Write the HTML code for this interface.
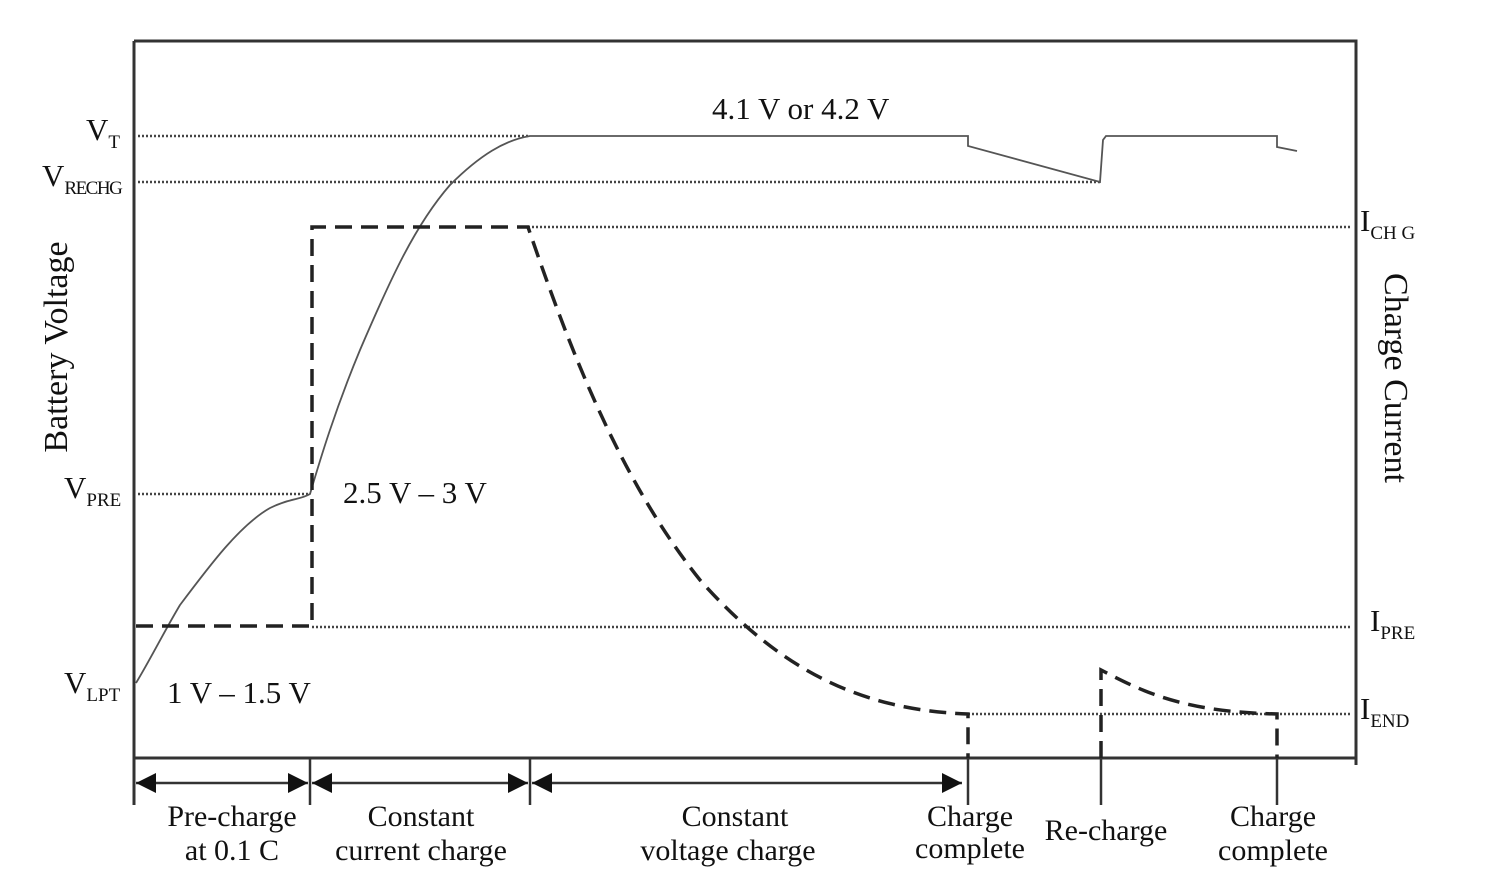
<!DOCTYPE html>
<html><head><style>
html,body{margin:0;padding:0;background:#fff;}
svg{display:block;}
text{font-family:"Liberation Serif",serif;fill:#111;}
</style></head><body>
<svg width="1489" height="878" viewBox="0 0 1489 878" xmlns="http://www.w3.org/2000/svg">
<defs>
<marker id="a" viewBox="0 0 10 10" refX="10" refY="5" markerWidth="20" markerHeight="20" markerUnits="userSpaceOnUse" orient="auto-start-reverse"><path d="M0,0L10,5L0,10z" fill="#111"/></marker>
</defs>
<path d="M134,41H1356V765" fill="none" stroke="#333" stroke-width="3"/>
<path d="M134,41V805" fill="none" stroke="#333" stroke-width="3"/>
<path d="M134,758H1356" fill="none" stroke="#333" stroke-width="3"/>
<g stroke="#444" stroke-width="2.5" stroke-dasharray="2,2" fill="none">
<path d="M138,136H530"/><path d="M138,182H1100"/><path d="M138,494H310"/>
<path d="M528,227H1352"/><path d="M312,627H1352"/><path d="M968,714H1352"/>
</g>
<path d="M136,683 C150,660 165,630 180,605 C210,565 240,525 270,508 C290,498 300,500 310,494 C320,460 335,410 360,350 C390,280 415,225 450,185 C480,155 505,140 530,136 H968 V146 L1100,182 L1103,140 L1106,136 H1277 V147 L1297,151" fill="none" stroke="#555" stroke-width="1.8"/>
<g stroke="#222" stroke-width="3.5" fill="none" stroke-dasharray="17,9">
<path d="M136,626H312V227H528 C570,350 620,480 700,580 C780,670 860,710 968,714 V758"/>
<path d="M1101,758 V670 C1140,690 1180,712 1277,714 V758"/>
</g>
<g stroke="#333" stroke-width="2.5" fill="none">
<path d="M310,758V805M530,758V805M968,758V805M1101,758V805M1277,758V805"/>
<path d="M136,783H308" marker-start="url(#a)" marker-end="url(#a)"/>
<path d="M312,783H528" marker-start="url(#a)" marker-end="url(#a)"/>
<path d="M532,783H962" marker-start="url(#a)" marker-end="url(#a)"/>
</g>
<g font-size="31">
<text x="86" y="140">V<tspan font-size="19" dy="8">T</tspan></text>
<text x="42" y="186">V<tspan font-size="19" dy="8" letter-spacing="-1.5">RECHG</tspan></text>
<text x="64" y="498">V<tspan font-size="19" dy="8">PRE</tspan></text>
<text x="64" y="693">V<tspan font-size="19" dy="8">LPT</tspan></text>
<text x="1360" y="231">I<tspan font-size="19" dy="8">CH G</tspan></text>
<text x="1370" y="631">I<tspan font-size="19" dy="8">PRE</tspan></text>
<text x="1360" y="719">I<tspan font-size="19" dy="8">END</tspan></text>
<text x="712" y="119">4.1 V or 4.2 V</text>
<text x="343" y="503">2.5 V – 3 V</text>
<text x="167" y="703">1 V – 1.5 V</text>
</g>
<g font-size="34">
<text transform="translate(67,347) rotate(-90)" text-anchor="middle">Battery Voltage</text>
<text transform="translate(1385,378) rotate(90)" text-anchor="middle">Charge Current</text>
</g>
<g font-size="30" text-anchor="middle">
<text x="232" y="826">Pre-charge</text><text x="232" y="860">at 0.1 C</text>
<text x="421" y="826">Constant</text><text x="421" y="860">current charge</text>
<text x="735" y="826">Constant</text><text x="728" y="860">voltage charge</text>
<text x="970" y="826">Charge</text><text x="970" y="858">complete</text>
<text x="1106" y="840">Re-charge</text>
<text x="1273" y="826">Charge</text><text x="1273" y="860">complete</text>
</g>
</svg>
</body></html>
